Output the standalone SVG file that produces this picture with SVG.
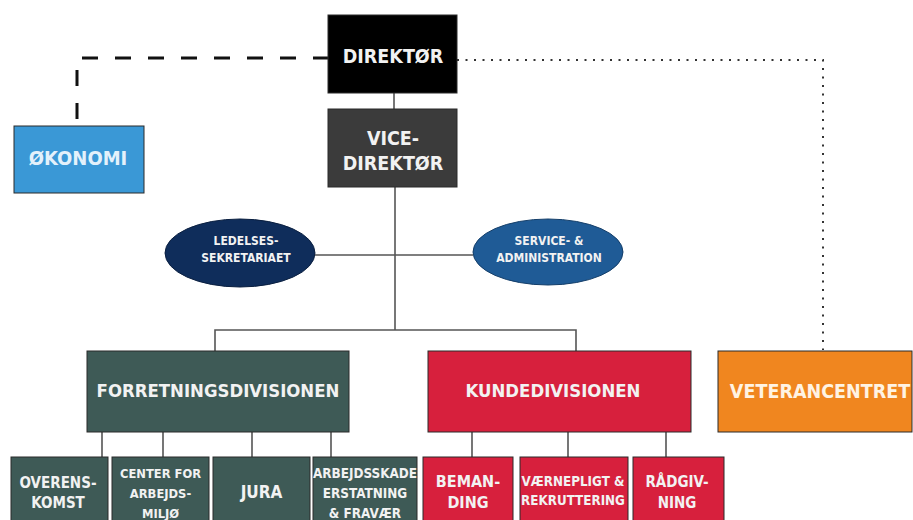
<svg xmlns="http://www.w3.org/2000/svg" width="913" height="520" viewBox="0 0 913 520">
<style>
text{font-family:"DejaVu Sans Condensed","DejaVu Sans",sans-serif;font-weight:bold;fill:#f2f2f2;text-anchor:middle}
.box{stroke:#2a2a2a;stroke-width:1}
.green{fill:#3e5a56}
.red{fill:#d7203d}
.ln{stroke:#555;stroke-width:1.6;fill:none}
.t19{font-size:19.5px}
.t18{font-size:18.4px}
.t15{font-size:15px}
.t13{font-size:12.8px}
.t12{font-size:12px}
</style>
<rect width="913" height="520" fill="#ffffff"/>
<g id="connectors">
<path d="M329,58 H77 V126" fill="none" stroke="#111" stroke-width="3" stroke-dasharray="16 17"/>
<path d="M457,60 H823 V350" fill="none" stroke="#333" stroke-width="2" stroke-dasharray="2 6.5"/>
<path class="ln" d="M394,93 V109"/>
<path class="ln" d="M395,187 V330"/>
<path class="ln" d="M315,255 H473"/>
<path class="ln" d="M215,351 V330 H576 V351"/>
<path class="ln" d="M102,432 V457 M163,432 V457 M252,432 V457 M331,432 V457"/>
<path class="ln" d="M472,432 V457 M568,432 V457 M666,432 V457"/>
</g>
<g id="direktor">
<rect class="box" x="328" y="15" width="129" height="78" fill="#000"/>
<text class="t19" x="393" y="63">DIREKTØR</text>
</g>
<g id="vicedirektor">
<rect class="box" x="328" y="109" width="129" height="78" fill="#3b3b3b"/>
<text class="t19" x="393" y="145">VICE-</text>
<text class="t19" x="393" y="170">DIREKTØR</text>
</g>
<g id="okonomi">
<rect class="box" x="14" y="126" width="130" height="67" fill="#3a98d6"/>
<text x="78" y="165" style="fill:#e3f1fb;font-size:20px">ØKONOMI</text>
</g>
<g id="ledelsessekretariatet">
<ellipse cx="240" cy="253" rx="75" ry="34" fill="#0f2d5b" stroke="#0a1f40" stroke-width="1"/>
<text class="t12" x="246" y="245">LEDELSES-</text>
<text class="t12" x="246" y="262">SEKRETARIAET</text>
</g>
<g id="service">
<ellipse cx="548" cy="252" rx="75" ry="33" fill="#1f5b96" stroke="#153f6a" stroke-width="1"/>
<text class="t12" x="549" y="245">SERVICE- &amp;</text>
<text class="t12" x="549" y="262">ADMINISTRATION</text>
</g>
<g id="forretningsdivisionen">
<rect class="box green" x="87" y="351" width="262" height="81"/>
<text class="t18" x="218" y="397">FORRETNINGSDIVISIONEN</text>
</g>
<g id="kundedivisionen">
<rect class="box red" x="428" y="351" width="263" height="81"/>
<text class="t18" x="553" y="397">KUNDEDIVISIONEN</text>
</g>
<g id="veterancentret">
<rect class="box" x="718" y="351" width="194" height="81" fill="#f0861f"/>
<text class="t19" x="820" y="398" style="fill:#fff3e3">VETERANCENTRET</text>
</g>
<g id="overenskomst">
<rect class="box green" x="11" y="457" width="97" height="70"/>
<text class="t15" x="58" y="488">OVERENS-</text>
<text class="t15" x="58" y="508">KOMST</text>
</g>
<g id="arbejdsmiljo">
<rect class="box green" x="112" y="457" width="97" height="70"/>
<text class="t13" x="160.5" y="478">CENTER FOR</text>
<text class="t13" x="160.5" y="498">ARBEJDS-</text>
<text class="t13" x="160.5" y="518">MILJØ</text>
</g>
<g id="jura">
<rect class="box green" x="213" y="457" width="97" height="70"/>
<text x="261.5" y="498" style="font-size:17px">JURA</text>
</g>
<g id="arbejdsskade">
<rect class="box green" x="313" y="457" width="104" height="70"/>
<text x="365" y="478" style="font-size:13.4px">ARBEJDSSKADE</text>
<text x="365" y="498" style="font-size:13.4px">ERSTATNING</text>
<text x="365" y="518" style="font-size:13.4px">&amp; FRAVÆR</text>
</g>
<g id="bemanding">
<rect class="box red" x="423" y="457" width="90" height="70"/>
<text x="468" y="487" style="font-size:16px">BEMAN-</text>
<text x="468" y="508" style="font-size:16px">DING</text>
</g>
<g id="vaernepligt">
<rect class="box red" x="520" y="457" width="108" height="70"/>
<text x="573" y="486" style="font-size:13.3px">VÆRNEPLIGT &amp;</text>
<text x="573" y="505" style="font-size:13.3px">REKRUTTERING</text>
</g>
<g id="radgivning">
<rect class="box red" x="633" y="457" width="91" height="70"/>
<text class="t15" x="677" y="487">RÅDGIV-</text>
<text class="t15" x="677" y="508">NING</text>
</g>
</svg>
